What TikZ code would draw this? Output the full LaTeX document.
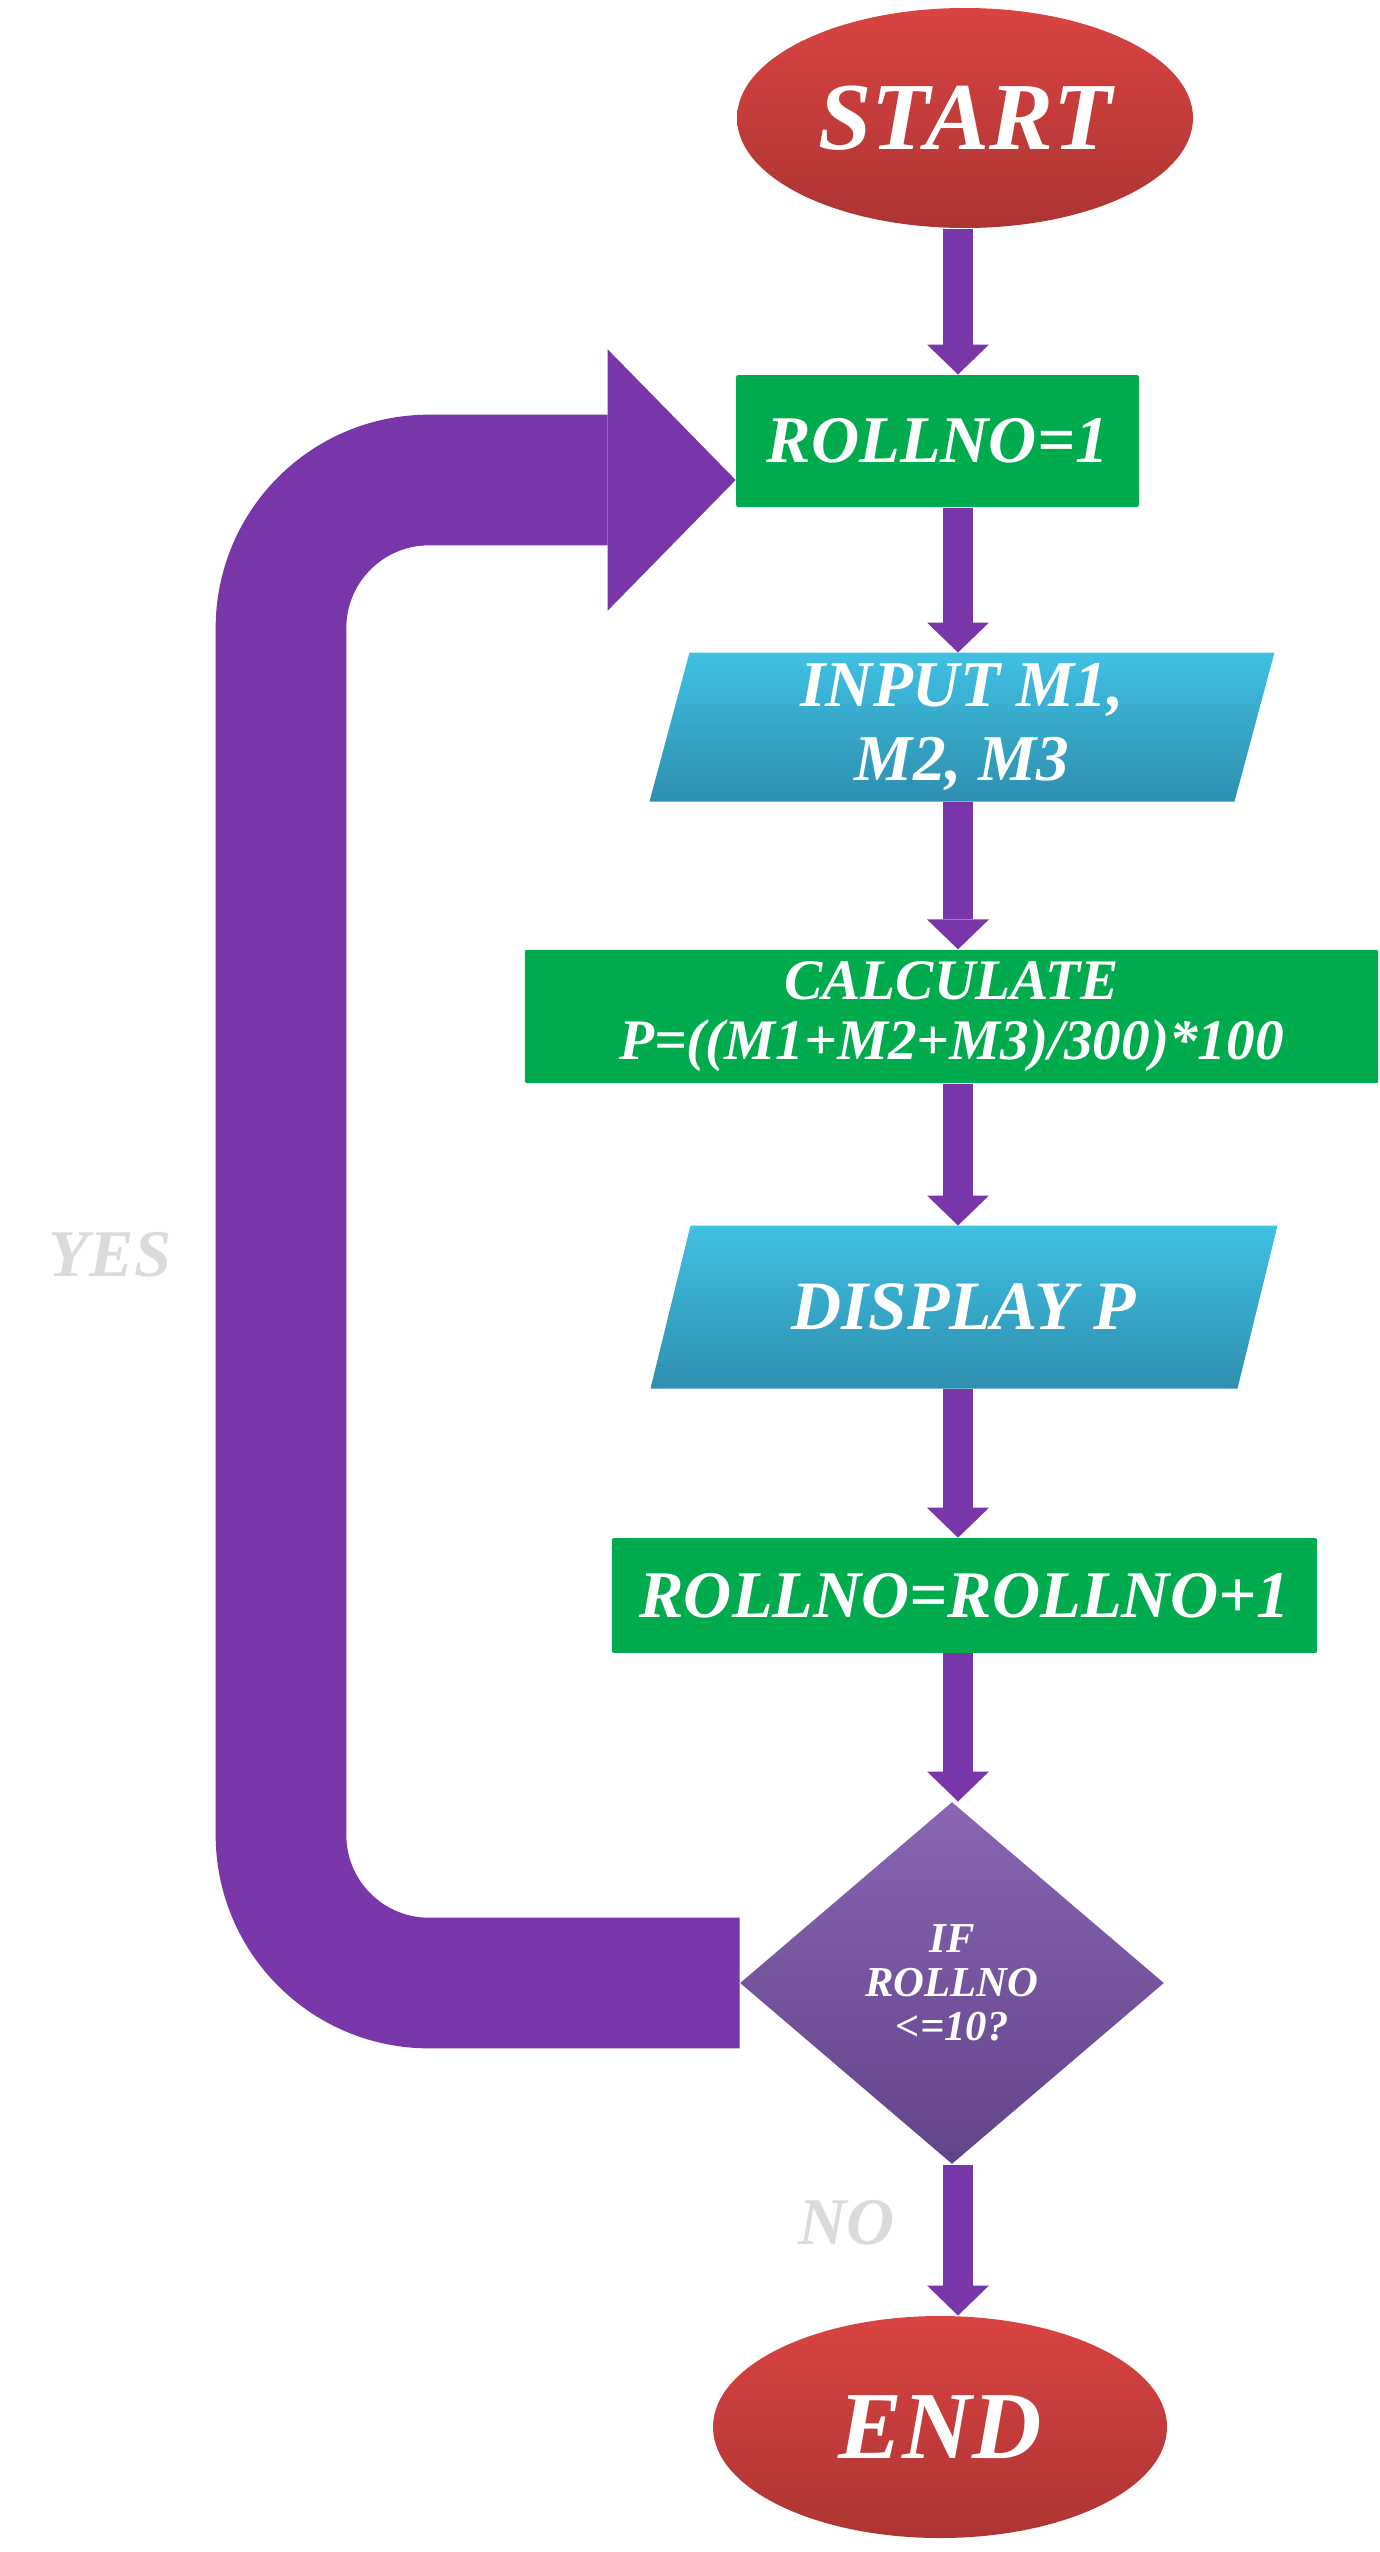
\documentclass[tikz,border=0pt]{standalone}
\usepackage{fontspec}
\setmainfont{Liberation Serif}
\usetikzlibrary{shapes.geometric,arrows.meta,backgrounds}

\definecolor{termred}{RGB}{217,68,66}
\definecolor{termdark}{RGB}{172,52,50}
\definecolor{boxgreen}{RGB}{0,171,78}
\definecolor{iotop}{RGB}{64,192,227}
\definecolor{iobot}{RGB}{46,143,175}
\definecolor{decitop}{RGB}{137,101,178}
\definecolor{decibot}{RGB}{98,68,138}
\definecolor{flowpurple}{RGB}{120,54,168}

\tikzset{every picture/.style={line width=0.75pt}}
\tikzset{
term/.style={ellipse, top color=termred, bottom color=termdark, text=white, inner sep=0pt, font=\fontsize{72}{72}\selectfont\bfseries\itshape},
process/.style={rectangle, fill=boxgreen, text=white, align=center, inner sep=0pt, rounded corners=1.5pt},
io/.style={rectangle, text=white, align=center, inner sep=0pt},
iofill/.style={top color=iotop, bottom color=iobot},
decision/.style={diamond, top color=decitop, bottom color=decibot, text=white, align=center, inner sep=0pt},
flow/.style={draw=flowpurple, line width=22.5pt, -{Triangle[length=22.5pt,width=46.5pt,line width=0pt]}},
loopback/.style={draw=flowpurple, line width=98pt, rounded corners=111pt, -{Triangle[length=96pt,width=196pt,line width=0pt]}},
answer/.style={text=black!14, font=\fontsize{50}{50}\selectfont\bfseries\itshape}
}

\begin{document}
\begin{tikzpicture}[x=0.75pt,y=0.75pt,yscale=-1,xscale=1]
\useasboundingbox (0,0) rectangle (1380,2552);
\node [term, minimum width=342pt, minimum height=165pt] (start) at (965,118) {START};
\node [process, minimum width=302pt, minimum height=99pt, font=\fontsize{50}{50}\selectfont\bfseries\itshape] (roll1) at (937.5,441) {ROLLNO=1};
\node [io, minimum width=468pt, minimum height=111pt, font=\fontsize{49}{56}\selectfont\bfseries\itshape] (input) at (962,727) {INPUT M1,\\M2, M3};
\node [process, minimum width=640pt, minimum height=100pt, font=\fontsize{43}{45}\selectfont\bfseries\itshape] (calc) at (951.5,1016.5) {CALCULATE\\P=((M1+M2+M3)/300)*100};
\node [io, minimum width=469.5pt, minimum height=121.5pt, font=\fontsize{52}{52}\selectfont\bfseries\itshape] (display) at (964,1307) {DISPLAY P};
\node [process, minimum width=529pt, minimum height=86pt, font=\fontsize{50}{50}\selectfont\bfseries\itshape] (rollinc) at (964.5,1595.5) {ROLLNO=ROLLNO+1};
\node [decision, minimum width=318pt, minimum height=271.5pt, font=\fontsize{32}{33}\selectfont\bfseries\itshape] (dec) at (952,1983) {IF\\ROLLNO\\<=10?};
\node [term, minimum width=340.5pt, minimum height=166.5pt] (stop) at (940,2427) {END};

% slanted input/output boxes behind their text
\begin{pgfonlayer}{background}
\path [iofill] ([xshift=30pt]input.north west) -- (input.north east) -- ([xshift=-30pt]input.south east) -- (input.south west) -- cycle;
\path [iofill] ([xshift=30pt]display.north west) -- (display.north east) -- ([xshift=-30pt]display.south east) -- (display.south west) -- cycle;
\end{pgfonlayer}

\coordinate (axis) at (958,0);
\coordinate (bend) at (281,480);
\draw [flow] (axis |- start.south) -- (axis |- roll1.north);
\draw [flow] (axis |- roll1.south) -- (axis |- input.north);
\draw [flow] (axis |- input.south) -- (axis |- calc.north);
\draw [flow] (axis |- calc.south) -- (axis |- display.north);
\draw [flow] (axis |- display.south) -- (axis |- rollinc.north);
\draw [flow] (axis |- rollinc.south) -- (axis |- dec.north);
\draw [flow] (axis |- dec.south) -- (axis |- stop.north);
\draw [loopback] (dec.west) -| (bend) -- (bend -| roll1.west);

\node [answer] (yes) at (110,1255) {YES};
\node [answer] (no) at (847,2223) {NO};
\end{tikzpicture}
\end{document}
